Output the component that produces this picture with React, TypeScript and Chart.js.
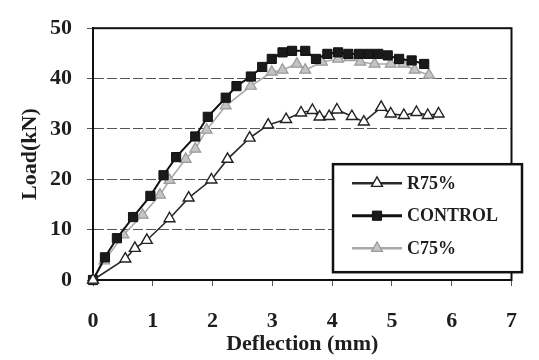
import { useEffect, useRef } from "react";
import { Chart, registerables } from "chart.js";

Chart.register(...registerables);

// ---- Data ----
const seriesNames = ["R75%", "CONTROL", "C75%"];

const xTicks = [0, 1, 2, 3, 4, 5, 6, 7];
const yTicks = [0, 10, 20, 30, 40, 50];

const r75X = [0, 0.54, 0.7, 0.9, 1.28, 1.6, 1.98, 2.25, 2.62, 2.93, 3.23, 3.48, 3.67, 3.79, 3.95, 4.08, 4.33, 4.53, 4.82, 4.98, 5.2, 5.41, 5.6, 5.78];
const r75Y = [0, 4.2, 6.3, 7.9, 12.2, 16.3, 19.9, 24.0, 28.2, 30.8, 31.9, 33.2, 33.7, 32.4, 32.5, 33.8, 32.5, 31.4, 34.3, 33.0, 32.7, 33.3, 32.7, 33.0];

const controlX = [0, 0.2, 0.4, 0.67, 0.96, 1.18, 1.39, 1.71, 1.92, 2.22, 2.4, 2.64, 2.83, 2.99, 3.17, 3.33, 3.55, 3.73, 3.92, 4.1, 4.27, 4.45, 4.61, 4.77, 4.93, 5.12, 5.33, 5.54];
const controlY = [0, 4.5, 8.3, 12.5, 16.7, 20.8, 24.4, 28.5, 32.4, 36.2, 38.5, 40.4, 42.3, 43.9, 45.2, 45.5, 45.5, 43.9, 44.9, 45.2, 44.9, 44.9, 44.9, 44.9, 44.6, 43.9, 43.6, 42.9];

const c75X = [0, 0.19, 0.51, 0.83, 1.12, 1.28, 1.55, 1.71, 1.9, 2.22, 2.64, 2.99, 3.17, 3.41, 3.55, 3.83, 4.1, 4.29, 4.47, 4.71, 4.98, 5.19, 5.38, 5.62];
const c75Y = [0, 3.8, 9.0, 12.9, 16.9, 19.8, 24.0, 26.0, 29.8, 34.6, 38.5, 41.3, 41.7, 42.9, 41.7, 43.3, 43.9, 44.2, 43.3, 42.9, 42.9, 42.9, 41.7, 40.7];

const xTitle = "Deflection (mm)";
const yTitle = "Load(kN)";

const FONT = "'Liberation Serif', 'Times New Roman', serif";
const TEXT = "#1e1e1e";

const toPoints = (xs: number[], ys: number[]) => xs.map((x, i) => ({ x, y: ys[i] }));

function drawMarker(ctx: CanvasRenderingContext2D, style: string, x: number, y: number, r: number, fill: string, stroke: string, lw: number) {
  ctx.save();
  ctx.beginPath();
  if (style === "rect") {
    const s = Math.SQRT1_2 * r;
    ctx.rect(x - s, y - s, 2 * s, 2 * s);
  } else {
    ctx.moveTo(x, y - r);
    ctx.lineTo(x + Math.sin((2 * Math.PI) / 3) * r, y - Math.cos((2 * Math.PI) / 3) * r);
    ctx.lineTo(x + Math.sin((4 * Math.PI) / 3) * r, y - Math.cos((4 * Math.PI) / 3) * r);
    ctx.closePath();
  }
  ctx.fillStyle = fill;
  ctx.fill();
  ctx.lineWidth = lw;
  ctx.strokeStyle = stroke;
  ctx.stroke();
  ctx.restore();
}

const framePlugin = {
  id: "frame",
  beforeDatasetsDraw(chart: any) {
    const { ctx, chartArea } = chart;
    ctx.save();
    ctx.strokeStyle = "#111";
    ctx.lineWidth = 2;
    ctx.strokeRect(chartArea.left, chartArea.top, chartArea.right - chartArea.left, chartArea.bottom - chartArea.top);
    ctx.restore();
  },
};

const boxLegendPlugin = {
  id: "boxLegend",
  afterDraw(chart: any) {
    const { ctx, chartArea } = chart;
    const bx = chartArea.left + 240;
    const by = chartArea.top + 136;
    const bw = 189;
    const bh = 108;
    ctx.save();
    ctx.fillStyle = "#fff";
    ctx.fillRect(bx, by, bw, bh);
    ctx.lineWidth = 2.5;
    ctx.strokeStyle = "#111";
    ctx.strokeRect(bx, by, bw, bh);
    chart.data.datasets.forEach((ds: any, i: number) => {
      const y = by + 19 + i * 32.5;
      const x1 = bx + 19;
      const x2 = bx + 69;
      ctx.beginPath();
      ctx.moveTo(x1, y);
      ctx.lineTo(x2, y);
      ctx.lineWidth = ds.borderWidth + 1;
      ctx.strokeStyle = ds.borderColor;
      ctx.stroke();
      drawMarker(ctx, ds.pointStyle, (x1 + x2) / 2, y, ds.pointRadius, ds.pointBackgroundColor, ds.pointBorderColor, ds.pointBorderWidth);
      ctx.fillStyle = TEXT;
      ctx.font = `bold 18px ${FONT}`;
      ctx.textAlign = "left";
      ctx.textBaseline = "middle";
      ctx.fillText(ds.label, x2 + 5, y + 1);
    });
    ctx.restore();
  },
};

export default function App() {
  const ref = useRef<HTMLCanvasElement | null>(null);

  useEffect(() => {
    document.body.style.margin = "0";
    const canvas = ref.current!;
    const chart = new Chart(canvas, {
      type: "line",
      data: {
        datasets: [
          {
            label: seriesNames[0],
            data: toPoints(r75X, r75Y),
            borderColor: "#2a2a2a",
            borderWidth: 1.6,
            pointStyle: "triangle",
            pointRadius: 6.3,
            pointBackgroundColor: "#fff",
            pointBorderColor: "#222",
            pointBorderWidth: 1.4,
            clip: false,
          } as any,
          {
            label: seriesNames[1],
            data: toPoints(controlX, controlY),
            borderColor: "#111",
            borderWidth: 2,
            pointStyle: "rect",
            pointRadius: 6.5,
            pointBackgroundColor: "#1a1a1a",
            pointBorderColor: "#111",
            pointBorderWidth: 1,
            clip: false,
          } as any,
          {
            label: seriesNames[2],
            data: toPoints(c75X, c75Y),
            borderColor: "#a8a8a8",
            borderWidth: 1.6,
            pointStyle: "triangle",
            pointRadius: 6.3,
            pointBackgroundColor: "#c4c4c4",
            pointBorderColor: "#999",
            pointBorderWidth: 1.2,
            clip: false,
          } as any,
        ],
      },
      options: {
        responsive: false,
        animation: false,
        devicePixelRatio: 1,
        layout: { padding: { top: 20, right: 8, left: 0, bottom: 0 } },
        plugins: { legend: { display: false }, tooltip: { enabled: false } },
        scales: {
          x: {
            type: "linear",
            min: xTicks[0],
            max: xTicks[xTicks.length - 1],
            afterBuildTicks: (s: any) => {
              s.ticks = xTicks.map((v) => ({ value: v }));
            },
            afterFit: (s: any) => {
              s.height = 80;
            },
            ticks: { color: TEXT, font: { family: FONT, size: 22, weight: "bold" }, padding: 22, maxRotation: 0 },
            grid: { drawOnChartArea: false, tickLength: 6, tickColor: "#555", tickWidth: 1 },
            border: { display: true, color: "#111", width: 2 },
            title: {
              display: true,
              text: xTitle,
              color: TEXT,
              font: { family: FONT, size: 22, weight: "bold" },
              padding: { top: 0, bottom: 2 },
            },
          },
          y: {
            type: "linear",
            min: yTicks[0],
            max: yTicks[yTicks.length - 1],
            afterBuildTicks: (s: any) => {
              s.ticks = yTicks.map((v) => ({ value: v }));
            },
            afterFit: (s: any) => {
              s.width = 93;
            },
            ticks: { color: TEXT, font: { family: FONT, size: 22, weight: "bold" }, padding: 15 },
            grid: { color: "#555", lineWidth: 1, tickLength: 6, tickColor: "#555" },
            border: { display: true, color: "#111", width: 2, dash: [10, 3] },
            title: {
              display: true,
              text: yTitle,
              color: TEXT,
              font: { family: FONT, size: 22, weight: "bold" },
              padding: { top: 17, bottom: 0 },
            },
          },
        },
      },
      plugins: [framePlugin, boxLegendPlugin],
    } as any);
    return () => chart.destroy();
  }, []);

  return (
    <div style={{ position: "absolute", left: 0, top: 0, width: 539, height: 360, background: "#fff" }}>
      <canvas ref={ref} width={539} height={360} />
    </div>
  );
}
